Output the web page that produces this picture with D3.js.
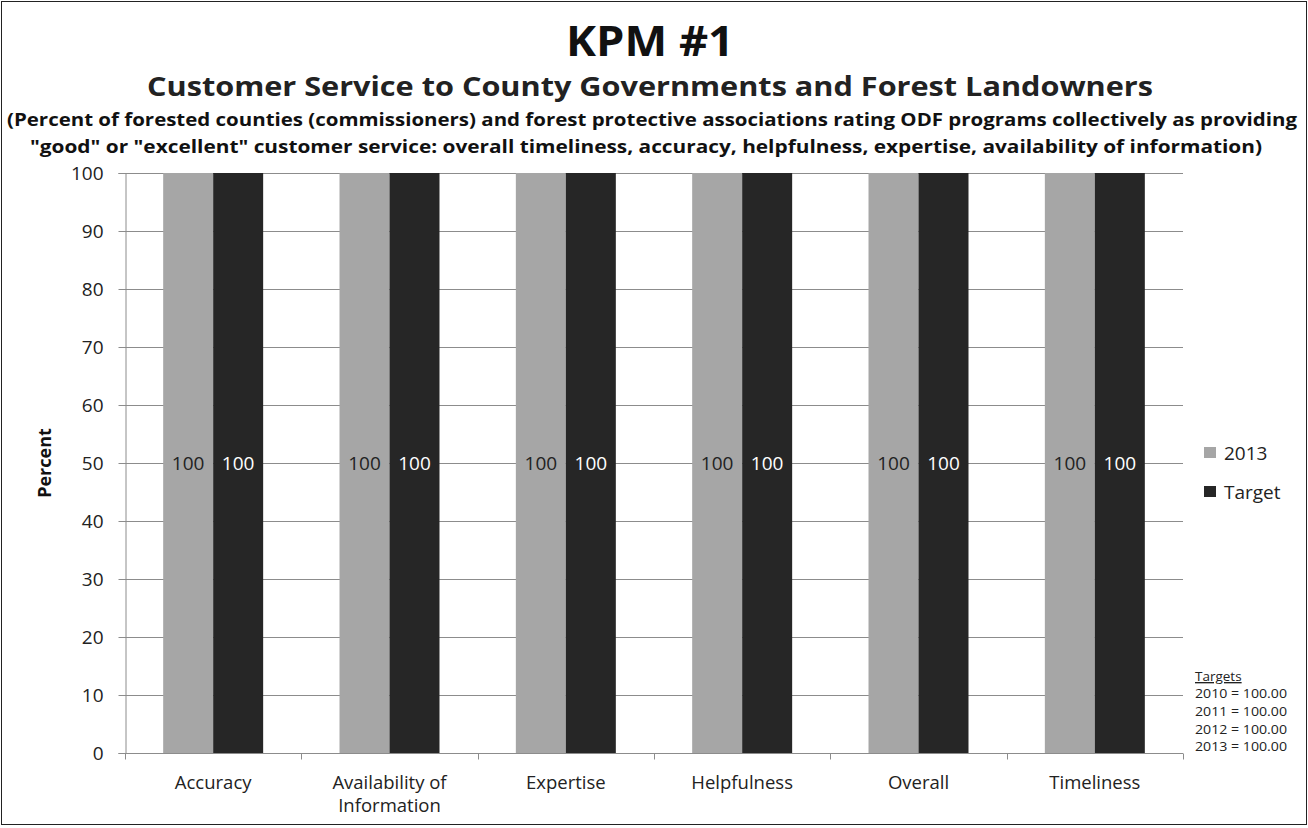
<!DOCTYPE html>
<html>
<head>
<meta charset="utf-8">
<script src="https://cdn.jsdelivr.net/npm/d3@7"></script>
<style>
  html, body { margin: 0; padding: 0; background: #fff; }
  svg { display: block; }
  text { font-family: "Open Sans", "DejaVu Sans", sans-serif; }
</style>
</head>
<body>
<svg id="chart" width="1308" height="828"></svg>
<script>
// Chart data
const categories = ["Accuracy", "Availability of\nInformation", "Expertise", "Helpfulness", "Overall", "Timeliness"];
const seriesNames = ["2013", "Target"];
const values2013 = [100, 100, 100, 100, 100, 100];
const valuesTarget = [100, 100, 100, 100, 100, 100];
const yTicks = [0, 10, 20, 30, 40, 50, 60, 70, 80, 90, 100];
const targetNotes = ["2010 = 100.00", "2011 = 100.00", "2012 = 100.00", "2013 = 100.00"];

const colors = { "2013": "#a6a6a6", "Target": "#262626" };
const labelColors = { "2013": "#222", "Target": "#fff" };

const svg = d3.select("#chart");
const W = 1308, H = 828;

// Outer frame
svg.append("rect").attr("x", 1.5).attr("y", 1.5).attr("width", W - 3).attr("height", H - 5)
  .attr("fill", "#fff").attr("stroke", "#222").attr("stroke-width", 1);

const plot = { left: 125, right: 1183, top: 173, bottom: 753 };

const x0 = d3.scaleBand().domain(categories).range([plot.left, plot.right])
  .paddingInner(0.433).paddingOuter(0.2165);
const x1 = d3.scaleBand().domain(seriesNames).range([0, x0.bandwidth()]).padding(0);
const y = d3.scaleLinear().domain([0, 100]).range([plot.bottom, plot.top]);

// Titles
svg.append("text").attr("x", 650).attr("y", 56).attr("text-anchor", "middle")
  .attr("font-size", 42).attr("font-weight", "bold").attr("fill", "#111")
  .attr("textLength", 168).attr("lengthAdjust", "spacingAndGlyphs").text("KPM #1");
svg.append("text").attr("x", 650).attr("y", 96).attr("text-anchor", "middle")
  .attr("font-size", 26).attr("font-weight", "bold").attr("fill", "#222")
  .attr("textLength", 1006).attr("lengthAdjust", "spacingAndGlyphs")
  .text("Customer Service to County Governments and Forest Landowners");
svg.append("text").attr("x", 652).attr("y", 126).attr("text-anchor", "middle")
  .attr("font-size", 18).attr("font-weight", "bold").attr("fill", "#111")
  .attr("textLength", 1290).attr("lengthAdjust", "spacingAndGlyphs")
  .text("(Percent of forested counties (commissioners) and forest protective associations rating ODF programs collectively as providing");
svg.append("text").attr("x", 646).attr("y", 153).attr("text-anchor", "middle")
  .attr("font-size", 18).attr("font-weight", "bold").attr("fill", "#111")
  .attr("textLength", 1232).attr("lengthAdjust", "spacingAndGlyphs")
  .text("\"good\" or \"excellent\" customer service:  overall timeliness, accuracy, helpfulness, expertise, availability of information)");

// Gridlines
svg.append("g").selectAll("line").data(yTicks.filter(d => d > 0)).join("line")
  .attr("x1", plot.left).attr("x2", plot.right)
  .attr("y1", d => Math.round(y(d)) + 0.5).attr("y2", d => Math.round(y(d)) + 0.5)
  .attr("stroke", "#8c8c8c").attr("stroke-width", 1);

// Y axis
const yAxis = svg.append("g").attr("transform", `translate(${plot.left + 0.5},0)`)
  .call(d3.axisLeft(y).tickValues(yTicks).tickSize(7).tickPadding(15));
yAxis.select(".domain").attr("stroke", "#8c8c8c");
yAxis.selectAll(".tick line").attr("stroke", "#8c8c8c");
yAxis.selectAll(".tick text").attr("font-size", 19).attr("fill", "#222")
  .attr("font-family", "Open Sans, sans-serif");

// X axis with ticks at category boundaries
const xAxisG = svg.append("g").attr("transform", `translate(0,${plot.bottom + 0.5})`);
xAxisG.append("line").attr("x1", plot.left).attr("x2", plot.right)
  .attr("stroke", "#8c8c8c");
const step = x0.step();
const boundaries = d3.range(categories.length + 1).map(i => plot.left + i * step);
xAxisG.selectAll(".bt").data(boundaries).join("line").attr("class", "bt")
  .attr("x1", d => Math.round(d) + 0.5).attr("x2", d => Math.round(d) + 0.5)
  .attr("y1", 0).attr("y2", 6).attr("stroke", "#8c8c8c");

// Category labels
const catLabels = svg.append("g").selectAll("text").data(categories).join("text")
  .attr("x", d => x0(d) + x0.bandwidth() / 2).attr("y", 789)
  .attr("text-anchor", "middle").attr("font-size", 18.5).attr("fill", "#222");
catLabels.each(function(d) {
  const t = d3.select(this);
  d.split("\n").forEach((ln, i) => {
    t.append("tspan").attr("x", x0(d) + x0.bandwidth() / 2).attr("dy", i === 0 ? 0 : 23).text(ln);
  });
});

// Y axis title
svg.append("text").attr("transform", `translate(51,${y(50)}) rotate(-90)`)
  .attr("text-anchor", "middle").attr("font-size", 18).attr("font-weight", "bold")
  .attr("fill", "#111").text("Percent");

// Bars
const rows = categories.map((c, i) => ({ cat: c, vals: [
  { key: "2013", v: values2013[i] }, { key: "Target", v: valuesTarget[i] }] }));
const groups = svg.append("g").selectAll("g").data(rows).join("g")
  .attr("transform", d => `translate(${x0(d.cat)},0)`);
groups.selectAll("rect").data(d => d.vals).join("rect")
  .attr("x", d => x1(d.key)).attr("width", x1.bandwidth())
  .attr("y", d => y(d.v)).attr("height", d => y(0) - y(d.v))
  .attr("fill", d => colors[d.key]);
groups.selectAll("text").data(d => d.vals).join("text")
  .attr("x", d => x1(d.key) + x1.bandwidth() / 2).attr("y", d => y(d.v / 2) + 7)
  .attr("text-anchor", "middle").attr("font-size", 19)
  .attr("fill", d => labelColors[d.key]).text(d => d.v);

// Legend
const legend = svg.append("g").selectAll("g").data(seriesNames).join("g")
  .attr("transform", (d, i) => `translate(1204,${447 + i * 39})`);
legend.append("rect").attr("width", 12).attr("height", 11).attr("fill", d => colors[d]);
legend.append("text").attr("x", 20).attr("y", 13).attr("font-size", 19).attr("fill", "#222").text(d => d);

// Target notes
const notes = svg.append("g").attr("transform", "translate(1195,0)");
notes.append("text").attr("y", 681).attr("font-size", 13.5).attr("fill", "#222")
  .attr("text-decoration", "underline").text("Targets");
notes.selectAll(".n").data(targetNotes).join("text").attr("class", "n")
  .attr("y", (d, i) => 698 + i * 17.8).attr("font-size", 13.5).attr("fill", "#222")
  .attr("textLength", 92).attr("lengthAdjust", "spacingAndGlyphs").text(d => d);
</script>
</body>
</html>
